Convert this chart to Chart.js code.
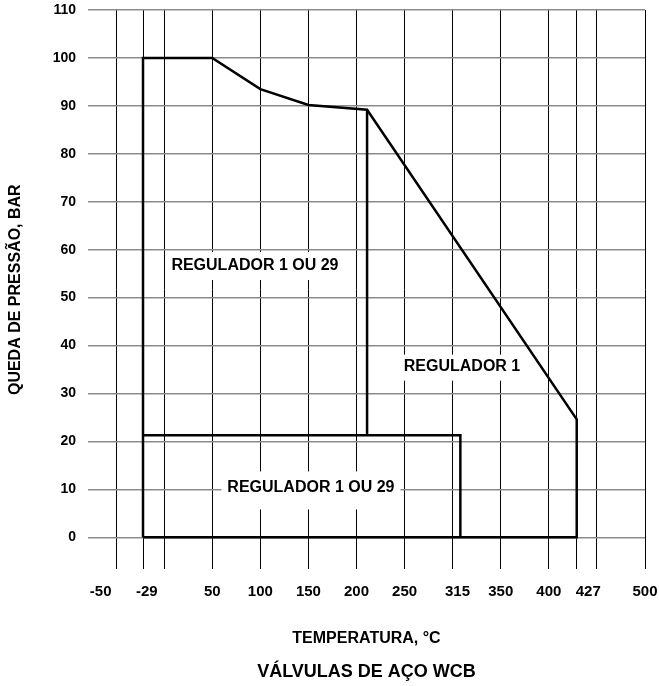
<!DOCTYPE html>
<html>
<head>
<meta charset="utf-8">
<script src="https://cdn.jsdelivr.net/npm/chart.js@4/dist/chart.umd.min.js"></script>
<style>
  body { margin: 0; background: #fff; }
</style>
</head>
<body>
<canvas id="chart" width="659" height="686"></canvas>
<script>
// Grenser for regulatorene (temperatur °C / trykkfall bar)
const outlineTemp = [-22, -22, 50, 100, 150, 211, 429, 429, -22];
const outlineBar = [0, 100, 100, 93.5, 90.2, 89.2, 24.6, 0, 0];
const dividerTemp = [211, 211];
const dividerBar = [89.2, 21.3];
const lowBoxTemp = [-22, 308, 308];
const lowBoxBar = [21.3, 21.3, 0];

// Akser
const yTickValues = [0, 10, 20, 30, 40, 50, 60, 70, 80, 90, 100, 110];
const xGridValues = [-50, -22, 0, 50, 100, 150, 200, 250, 300, 350, 400, 429, 450, 500];
const xLabelValues = [-66, -18, 50, 100, 150, 200, 250, 305, 350, 400, 441, 500];
const xLabelTexts = ['-50', '-29', '50', '100', '150', '200', '250', '315', '350', '400', '427', '500'];

// Tekst i områdene
const regionTexts = ['REGULADOR 1 OU 29', 'REGULADOR 1', 'REGULADOR 1 OU 29'];
const regionTemp = [94.4, 309.7, 152.6];
const regionBar = [56.6, 35.6, 10.4];

function toPoints(xs, ys) {
    return xs.map((x, i) => ({ x: x, y: ys[i] }));
}

function lineSet(xs, ys) {
    return {
        data: toPoints(xs, ys),
        showLine: true,
        borderColor: '#000',
        borderWidth: 2.5,
        pointRadius: 0,
        tension: 0,
        borderJoinStyle: 'miter',
        fill: false
    };
}

// hvite bokser bak tekstene, så rutenettet blir brutt
const boxAbove = [14, 12, 16];
const boxBelow = [14, 14, 22];

const regionLabels = {
    id: 'regionLabels',
    beforeDatasetsDraw(chart) {
        const ctx = chart.ctx;
        const xs = chart.scales.x;
        const ys = chart.scales.y;
        ctx.save();
        ctx.font = 'bold 16px "Liberation Sans", Arial, sans-serif';
        ctx.textAlign = 'center';
        ctx.textBaseline = 'middle';
        regionTexts.forEach((text, i) => {
            const px = xs.getPixelForValue(regionTemp[i]);
            const py = ys.getPixelForValue(regionBar[i]);
            const w = ctx.measureText(text).width;
            ctx.fillStyle = '#fff';
            ctx.fillRect(px - w / 2 - 6, py - boxAbove[i], w + 12, boxAbove[i] + boxBelow[i]);
            ctx.fillStyle = '#000';
            ctx.fillText(text, px, py);
        });
        ctx.restore();
    }
};

// ingen ekstra luft rundt aksene, plottet skal gå helt ut
function noPadding(scale) {
    scale.paddingTop = 0;
    scale.paddingBottom = 0;
    scale.paddingLeft = 0;
    scale.paddingRight = 0;
}

Chart.defaults.font.family = '"Liberation Sans", Arial, sans-serif';
Chart.defaults.color = '#000';

new Chart(document.getElementById('chart'), {
    type: 'scatter',
    data: {
        datasets: [
            lineSet(outlineTemp, outlineBar),
            lineSet(dividerTemp, dividerBar),
            lineSet(lowBoxTemp, lowBoxBar)
        ]
    },
    options: {
        responsive: false,
        devicePixelRatio: 1,
        animation: false,
        layout: { padding: { top: 10, right: 14, bottom: 1, left: 0 } },
        plugins: {
            legend: { display: false },
            tooltip: { enabled: false },
            title: {
                display: true,
                position: 'bottom',
                fullSize: false,
                text: 'VÁLVULAS DE AÇO WCB',
                padding: { top: 2, bottom: 2 },
                font: { size: 18, weight: 'bold' }
            }
        },
        scales: {
            x: {
                type: 'linear',
                min: -79.2,
                max: 500,
                border: { display: false },
                grid: {
                    drawTicks: false,
                    lineWidth: 1,
                    color: (c) => (c.tick && xGridValues.includes(c.tick.value)) ? '#000' : 'rgba(0,0,0,0)'
                },
                afterBuildTicks: (scale) => {
                    const all = Array.from(new Set(xGridValues.concat(xLabelValues))).sort((a, b) => a - b);
                    scale.ticks = all.map(v => ({ value: v }));
                },
                afterFit: (scale) => {
                    scale.height = 90;
                    noPadding(scale);
                },
                ticks: {
                    autoSkip: false,
                    maxRotation: 0,
                    padding: 13,
                    font: { size: 15, weight: 'bold' },
                    callback: (value) => {
                        const i = xLabelValues.indexOf(value);
                        return i >= 0 ? xLabelTexts[i] : '';
                    }
                },
                title: {
                    display: true,
                    text: 'TEMPERATURA, °C',
                    padding: { top: 0, bottom: 11 },
                    font: { size: 16, weight: 'bold' }
                }
            },
            y: {
                min: -6.7,
                max: 110,
                border: { display: false },
                grid: { drawTicks: false, color: '#8c8c8c', lineWidth: 1.5 },
                afterBuildTicks: (scale) => {
                    scale.ticks = yTickValues.map(v => ({ value: v }));
                },
                afterFit: (scale) => {
                    scale.width = 88;
                    noPadding(scale);
                },
                ticks: {
                    padding: 12,
                    font: { size: 14, weight: 'bold' }
                },
                title: {
                    display: true,
                    text: 'QUEDA DE PRESSÃO, BAR',
                    padding: { top: 6, bottom: 0 },
                    font: { size: 16, weight: 'bold' }
                }
            }
        }
    },
    plugins: [regionLabels]
});
</script>
</body>
</html>
